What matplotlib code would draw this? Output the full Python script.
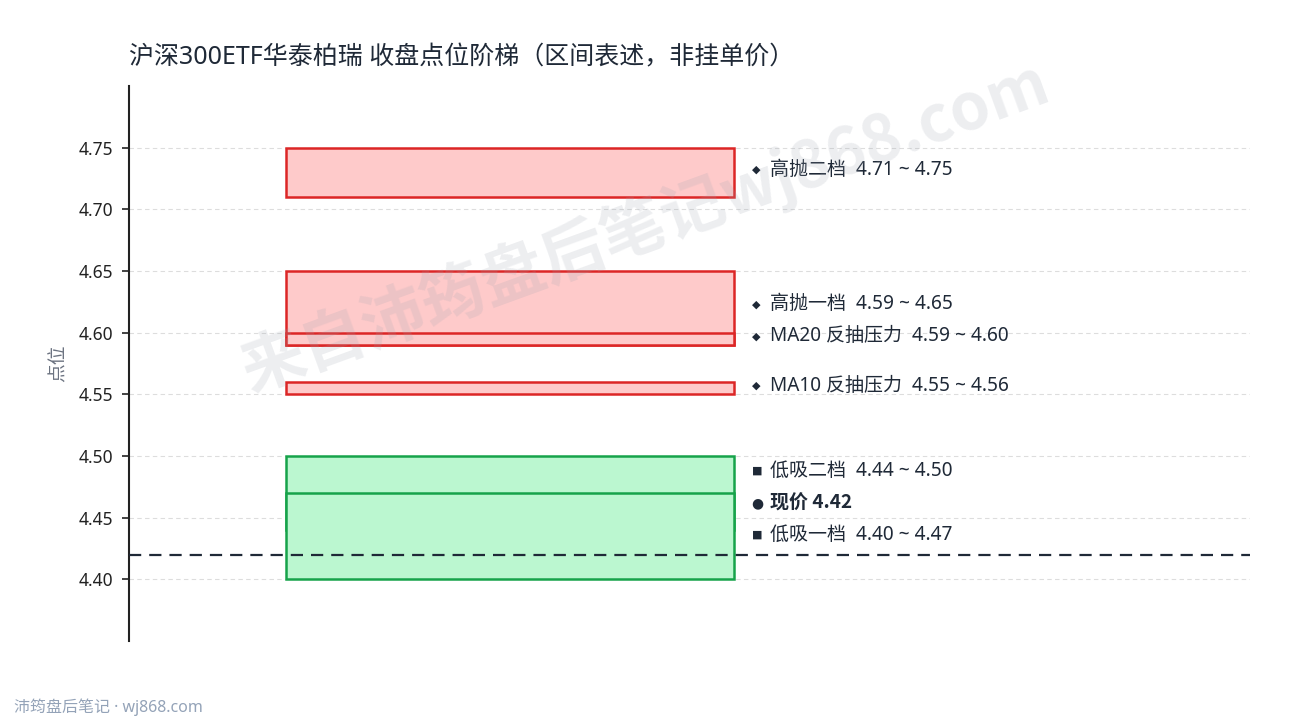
import matplotlib
matplotlib.use("Agg")
import matplotlib.pyplot as plt
from matplotlib.patches import Rectangle

FONTS = ['Noto Sans', 'Noto Sans CJK SC', 'DejaVu Sans']
BOLD_FONTS = ['Noto Sans CJK SC', 'DejaVu Sans']
plt.rcParams['font.family'] = FONTS

# ---- data ----
zone_names = ["高抛二档", "高抛一档", "MA20 反抽压力", "MA10 反抽压力", "低吸二档", "低吸一档"]
zone_low = [4.71, 4.59, 4.59, 4.55, 4.44, 4.40]
zone_high = [4.75, 4.65, 4.60, 4.56, 4.50, 4.47]
zone_kind = ["sell", "sell", "sell", "sell", "buy", "buy"]
current_price = 4.42
y_ticks = [4.40, 4.45, 4.50, 4.55, 4.60, 4.65, 4.70, 4.75]

title = "沪深300ETF华泰柏瑞 收盘点位阶梯（区间表述，非挂单价）"
footer = "沛筠盘后笔记 · wj868.com"
watermark = "来自沛筠盘后笔记wj868.com"

# ---- styles / layout ----
edge = {"sell": "#dc2626", "buy": "#16a34a"}
fill = {"sell": "#fecaca", "buy": "#bbf7d0"}
marker = {"sell": "◆", "buy": "■"}
text_color = "#1f2937"
# label stacking positions (layout, after de-overlap)
label_y_sell = [4.732, 4.623, 4.597, 4.557]
label_y_buy = [4.488, 4.436]
label_y_cur = 4.462

fig = plt.figure(figsize=(12.9, 7.2), dpi=100)
ax = fig.add_axes([0.1, 0.1097, 0.869, 0.7709])
ax.set_xlim(0, 1)
ax.set_ylim(4.35, 4.80)

x0, x1 = 0.14, 0.54
for i, (lo, hi, kind) in enumerate(zip(zone_low, zone_high, zone_kind)):
    ax.add_patch(Rectangle((x0, lo), x1 - x0, hi - lo, facecolor=fill[kind],
                           edgecolor=edge[kind], linewidth=1.8, zorder=3 + i * 0.1))

ax.axhline(current_price, color="#1f2937", linewidth=1.6, dashes=(5.5, 3.6), zorder=5)

label_ys = label_y_sell + label_y_buy
for name, lo, hi, kind, ly in zip(zone_names, zone_low, zone_high, zone_kind, label_ys):
    ax.text(0.556, ly, marker[kind], fontsize=8, color=text_color, va="center", ha="left",
            family=['DejaVu Sans'], zorder=6)
    ax.text(0.5715, ly, f"{name}  {lo:.2f} ~ {hi:.2f}", fontsize=13.7, color=text_color,
            va="center", ha="left", zorder=6)
ax.text(0.555, label_y_cur, "●", fontsize=10, color=text_color, va="center", ha="left",
        family=['DejaVu Sans'], zorder=6)
ax.text(0.5715, label_y_cur, f"现价 {current_price:.2f}", fontsize=13.7, color=text_color,
        fontweight="bold", family=BOLD_FONTS, va="center", ha="left", zorder=6)

ax.set_yticks(y_ticks)
ax.set_yticklabels([f"{v:.2f}" for v in y_ticks])
ax.tick_params(axis="y", labelsize=12.5, colors="#222222", length=5, width=1.2, pad=6)
ax.set_xticks([])
ax.grid(axis="y", color="#dddddd", linestyle=(0, (4, 3)), linewidth=0.8, zorder=0)
ax.set_axisbelow(True)
for s in ["top", "right", "bottom"]:
    ax.spines[s].set_visible(False)
ax.spines["left"].set_color("#222222")
ax.spines["left"].set_linewidth(1.5)
ax.set_ylabel("点位", fontsize=13.5, color="#6b7280", labelpad=8)

fig.text(0.1, 0.92, title, fontsize=18, color=text_color, ha="left", va="center")
fig.text(0.011, 0.018, footer, fontsize=11.5, color="#94a3b8", ha="left", va="center")
fig.text(0.5, 0.685, watermark, fontsize=46, fontweight="bold", family=BOLD_FONTS,
         color="#9ca3af", alpha=0.18, rotation=20, ha="center", va="center", zorder=10)

fig.savefig("out.png", dpi=100)
